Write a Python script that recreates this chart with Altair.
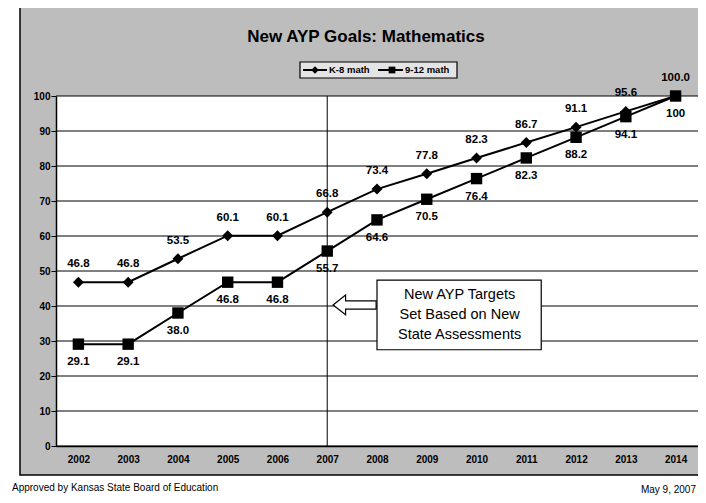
import altair as alt
import pandas as pd

YEARS = [2002, 2003, 2004, 2005, 2006, 2007, 2008, 2009, 2010, 2011, 2012, 2013, 2014]
SERIES = ["K-8 math", "9-12 math"]
K8 = [46.8, 46.8, 53.5, 60.1, 60.1, 66.8, 73.4, 77.8, 82.3, 86.7, 91.1, 95.6, 100.0]
HS = [29.1, 29.1, 38.0, 46.8, 46.8, 55.7, 64.6, 70.5, 76.4, 82.3, 88.2, 94.1, 100.0]
K8_LABELS = ["46.8", "46.8", "53.5", "60.1", "60.1", "66.8", "73.4", "77.8", "82.3", "86.7", "91.1", "95.6", "100.0"]
HS_LABELS = ["29.1", "29.1", "38.0", "46.8", "46.8", "55.7", "64.6", "70.5", "76.4", "82.3", "88.2", "94.1", "100"]
Y_TICKS = [0, 10, 20, 30, 40, 50, 60, 70, 80, 90, 100]
MARK_YEAR = 2007
TITLE = "New AYP Goals: Mathematics"
NOTE = ["New AYP Targets", "Set Based on New", "State Assessments"]
FOOTER_LEFT = "Approved by Kansas State Board of Education"
FOOTER_RIGHT = "May 9, 2007"

FONT = "Liberation Sans"
W, H = 642, 350
BG = "#bdbdbd"

k8 = pd.DataFrame({"year": YEARS, "value": K8, "label": K8_LABELS})
hs = pd.DataFrame({"year": YEARS, "value": HS, "label": HS_LABELS})
ticks = pd.DataFrame({"value": Y_TICKS})

X = alt.X("year:Q", title=None,
          scale=alt.Scale(domain=[2001.55, 2014.45], nice=False, zero=False),
          axis=alt.Axis(values=YEARS, format="d", grid=False, ticks=False,
                        labelFont=FONT, labelFontSize=10, labelFontWeight="bold",
                        labelColor="black", labelPadding=8, domainColor="black",
                        domainWidth=1.5, zindex=1))
Y = alt.Y("value:Q", title=None,
          scale=alt.Scale(domain=[0, 100], nice=False),
          axis=alt.Axis(values=Y_TICKS, grid=False, ticks=True, tickSize=5,
                        tickColor="black", labelFont=FONT, labelFontSize=10,
                        labelFontWeight="bold", labelColor="black", labelPadding=1,
                        domainColor="black", domainWidth=1.5, zindex=1))

one = alt.Data(values=[{}])

frame = alt.Chart(one).mark_rect(fill=BG, stroke="black", strokeWidth=1.5).encode(
    x=alt.value(-36), x2=alt.value(W + 20), y=alt.value(-91), y2=alt.value(379))
plot_bg = alt.Chart(one).mark_rect(fill="white").encode(
    x=alt.value(0), x2=alt.value(W), y=alt.value(0), y2=alt.value(H))
grid = alt.Chart(ticks).mark_rule(color="black", strokeWidth=1).encode(y=Y)
vline = alt.Chart(pd.DataFrame({"year": [MARK_YEAR]})).mark_rule(color="black", strokeWidth=1).encode(x=X)

title = alt.Chart(one).mark_text(font=FONT, fontSize=17, fontWeight="bold", color="black",
                                 align="center", baseline="middle").encode(
    x=alt.value(310), y=alt.value(-59), text=alt.value(TITLE))

# legend
leg_box = alt.Chart(one).mark_rect(fill="#e4e4e4", stroke="black", strokeWidth=1.2).encode(
    x=alt.value(244), x2=alt.value(401), y=alt.value(-34), y2=alt.value(-18))
leg_l1 = alt.Chart(one).mark_rule(color="black", strokeWidth=2).encode(
    x=alt.value(247), x2=alt.value(271), y=alt.value(-26))
leg_p1 = alt.Chart(one).mark_point(shape="diamond", filled=True, color="black", size=55, opacity=1).encode(
    x=alt.value(259), y=alt.value(-26))
leg_t1 = alt.Chart(one).mark_text(font=FONT, fontSize=9.5, fontWeight="bold", align="left",
                                  baseline="middle", color="black").encode(
    x=alt.value(273), y=alt.value(-26), text=alt.value(SERIES[0]))
leg_l2 = alt.Chart(one).mark_rule(color="black", strokeWidth=2).encode(
    x=alt.value(322), x2=alt.value(347), y=alt.value(-26))
leg_p2 = alt.Chart(one).mark_point(shape="square", filled=True, color="black", size=45, opacity=1).encode(
    x=alt.value(336), y=alt.value(-26))
leg_t2 = alt.Chart(one).mark_text(font=FONT, fontSize=9.5, fontWeight="bold", align="left",
                                  baseline="middle", color="black").encode(
    x=alt.value(349), y=alt.value(-26), text=alt.value(SERIES[1]))

def series_layers(df, shape, size, dy):
    base = alt.Chart(df)
    line = base.mark_line(color="black", strokeWidth=2).encode(x=X, y=Y)
    pts = base.mark_point(shape=shape, filled=True, color="black", size=size, opacity=1).encode(x=X, y=Y)
    lab = base.mark_text(font=FONT, fontSize=11.5, fontWeight="bold", color="black",
                         dy=dy, baseline="middle").encode(x=X, y=Y, text="label:N")
    return [line, pts, lab]

# annotation
box = alt.Chart(pd.DataFrame({"year": [2008.0], "year2": [2011.3], "value": [47.4], "value2": [27.5]})).mark_rect(
    fill="white", stroke="black", strokeWidth=1.2).encode(x=X, x2="year2:Q", y=Y, y2="value2:Q")
note = alt.Chart(pd.DataFrame({"year": [2009.66], "value": [43.1]})).mark_text(
    font=FONT, fontSize=14.5, lineHeight=20, color="black", align="center", baseline="middle").encode(
    x=X, y=Y, text=alt.value(NOTE))
ARROW = "M -1 0 L -0.42 -0.46 L -0.42 -0.19 L 1 -0.19 L 1 0.19 L -0.42 0.19 L -0.42 0.46 Z"
arrow = alt.Chart(pd.DataFrame({"year": [2007.55], "value": [40.3]})).mark_point(
    shape=ARROW, filled=True, fill="white", stroke="black", strokeWidth=1.2, size=1849, opacity=1).encode(x=X, y=Y)

foot_l = alt.Chart(one).mark_text(font=FONT, fontSize=10, color="black", align="left", baseline="middle").encode(
    x=alt.value(-44), y=alt.value(392), text=alt.value(FOOTER_LEFT))
foot_r = alt.Chart(one).mark_text(font=FONT, fontSize=10, color="black", align="right", baseline="middle").encode(
    x=alt.value(W - 2), y=alt.value(394), text=alt.value(FOOTER_RIGHT))

layers = [frame, plot_bg, grid, vline, box, arrow, note, title,
          leg_box, leg_l1, leg_l2, leg_p1, leg_p2, leg_t1, leg_t2]
layers += series_layers(k8, "diamond", 120, -18)
layers += series_layers(hs, "square", 130, 18)
layers += [foot_l, foot_r]

chart = alt.layer(*layers).properties(
    width=W, height=H,
    autosize=alt.AutoSizeParams(type="none"),
    padding={"left": 48, "top": 88, "right": 0, "bottom": 49},
    background="white",
).configure_view(stroke=None)

chart.save("out.html", embed_options={"renderer": "svg", "actions": False})
